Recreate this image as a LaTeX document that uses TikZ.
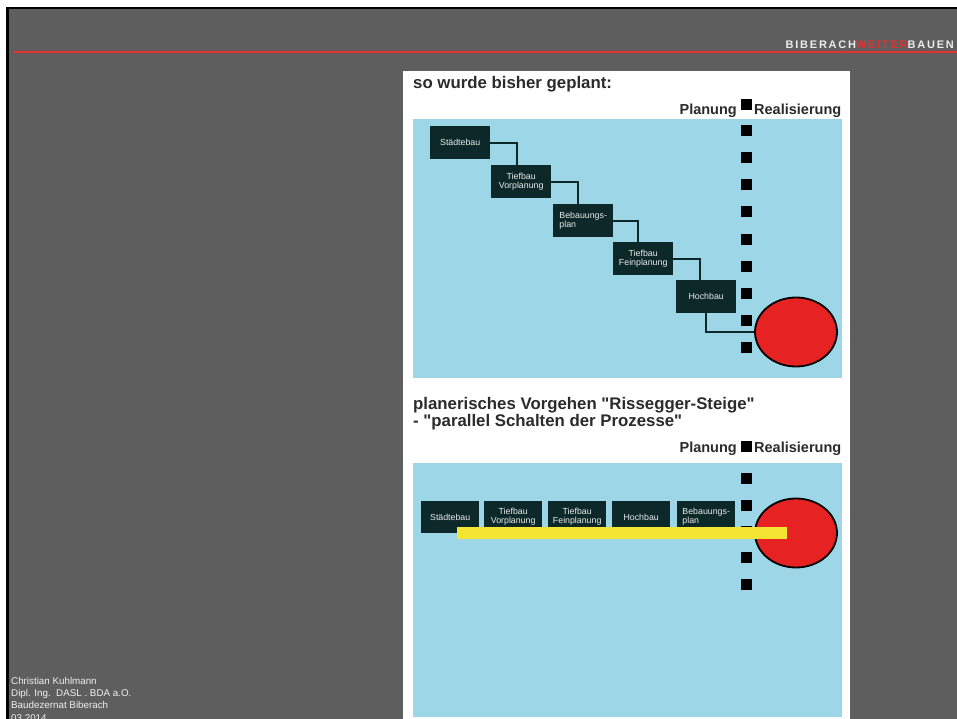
\documentclass[tikz,border=0pt]{standalone}
\usepackage{fontspec}
\setmainfont{Liberation Sans}
\newfontfamily\brandfont[LetterSpace=16]{Liberation Sans}
\usepackage{xcolor}
\usetikzlibrary{positioning, shapes.geometric}
\definecolor{slidegray}{HTML}{5E5E5E}
\definecolor{skyblue}{HTML}{9DD7E7}
\definecolor{boxdark}{HTML}{0C2828}
\definecolor{goalred}{HTML}{E62222}
\definecolor{baryellow}{HTML}{F3E531}
\definecolor{brandred}{HTML}{E0332F}
\definecolor{inkgray}{HTML}{2B2B2B}
\tikzset{
    phase/.style={fill=boxdark, text=white!85!gray, inner sep=1pt, align=center,
        font=\fontsize{8.8}{9}\selectfont, anchor=north west}, % the dark process boxes
    upphase/.style={phase, minimum width=60pt, minimum height=33pt},
    lowphase/.style={phase, minimum width=58pt, minimum height=32pt},
    marker/.style={fill=black, minimum size=11pt, inner sep=0pt}, % the black squares of the border line
    goal/.style={ellipse, fill=goalred, draw=black, line width=1.8pt, minimum width=82pt, minimum height=69pt},
    heading/.style={anchor=west, font=\bfseries\fontsize{16.8}{15.5}\selectfont, text=inkgray, inner sep=0pt, align=left},
    legend/.style={font=\bfseries\fontsize{14.5}{15}\selectfont, text=inkgray, inner sep=0pt},
}
\tikzstyle{link} = [line width=1.8pt, draw=boxdark]

\begin{document}
\begin{tikzpicture}[x=1pt, y=-1pt]
    \useasboundingbox (0,0) rectangle (957,719);
    \fill[white] (0,0) rectangle (957,719);
    \fill[slidegray] (7,8) rectangle (957,719);
    \fill[black] (6,7) rectangle (957,9.5);
    \fill[black] (6,7) rectangle (8.5,719);
    \draw[brandred, line width=1.2pt] (14,52) -- (957,52);
    \node[anchor=east, inner sep=0pt, font=\brandfont\bfseries\fontsize{11}{12}\selectfont, text=white!85!gray] (brand) at (954,45)
        {BIBERACH\textcolor{brandred}{WEITER}BAUEN};
    \node[anchor=north west, inner sep=0pt, align=left, text=white!88!gray, font=\fontsize{9.8}{12.3}\selectfont] (author) at (11,677)
        {Christian Kuhlmann\\Dipl. Ing.\ \ DASL . BDA a.O.\\Baudezernat Biberach\\03.2014};

    % slide content
    \fill[white] (403,71) rectangle (850,719);
    \fill[skyblue] (413,119) rectangle (842,378);
    \fill[skyblue] (413,463) rectangle (842,717);

    % sequential planning
    \node[heading] (title1) at (413,84) {so wurde bisher geplant:};
    \foreach \y in {105,131,158,185,212,239,266,293,320,347}
        \node[marker] at (746,\y) {};
    \node[legend, anchor=east] (plan1) at (737,111) {Planung};
    \node[legend, anchor=west] (real1) at (754,111) {Realisierung};
    \node[upphase] (s1) at (430,126) {St\"adtebau};
    \node[upphase] (s2) at (491,165) {Tiefbau\\Vorplanung};
    \node[upphase, align=left] (s3) at (553,204) {Bebauungs-\\plan};
    \node[upphase] (s4) at (613,242) {Tiefbau\\Feinplanung};
    \node[upphase] (s5) at (676,280) {Hochbau};
    \node[goal] (goal1) at (796,332) {};
    \draw[link] (s1.east) -| ([xshift=-4pt]s2.north);
    \draw[link] (s2.east) -| ([xshift=-5pt]s3.north);
    \draw[link] (s3.east) -| ([xshift=-5pt]s4.north);
    \draw[link] (s4.east) -| ([xshift=-6pt]s5.north);
    \draw[link] (s5.south) |- (goal1.west);

    % parallel planning
    \node[heading, anchor=north west] (title2) at (413,397)
        {planerisches Vorgehen \textquotedbl Rissegger-Steige\textquotedbl\\- \textquotedbl parallel Schalten der Prozesse\textquotedbl};
    \foreach \y in {446,478,505,531,557,584}
        \node[marker] at (746,\y) {};
    \node[legend, anchor=east] (plan2) at (737,449) {Planung};
    \node[legend, anchor=west] (real2) at (754,449) {Realisierung};
    \node[lowphase] (p1) at (421,501) {St\"adtebau};
    \node[lowphase] (p2) at (484,501) {Tiefbau\\Vorplanung};
    \node[lowphase] (p3) at (548,501) {Tiefbau\\Feinplanung};
    \node[lowphase] (p4) at (612,501) {Hochbau};
    \node[lowphase, align=left] (p5) at (677,501) {Bebauungs-\\plan};
    \node[goal] (goal2) at (796,533) {};
    \fill[baryellow] (457,527) rectangle (787,539);
\end{tikzpicture}
\end{document}
